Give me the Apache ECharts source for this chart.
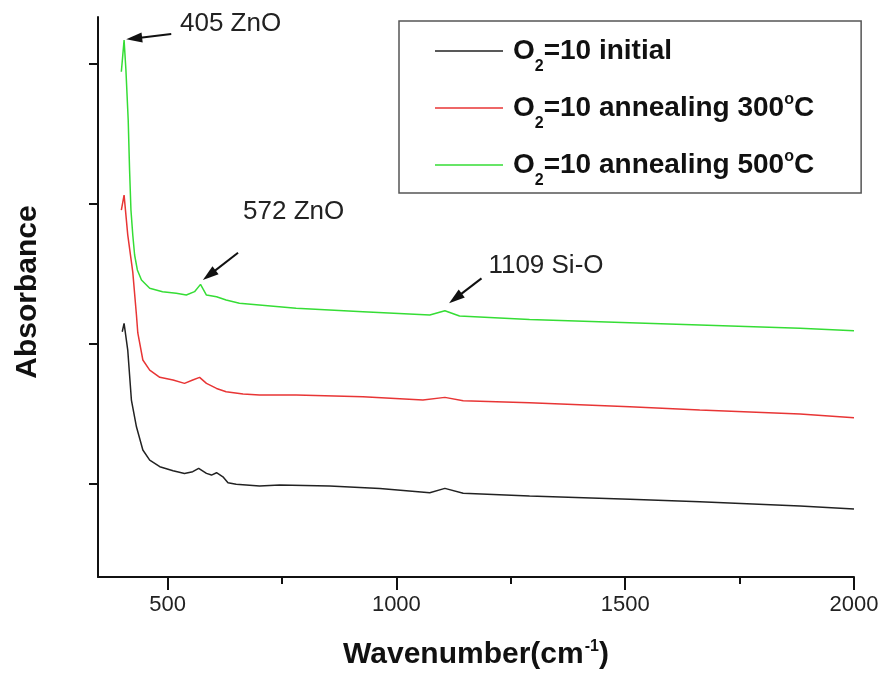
<!DOCTYPE html>
<html>
<head>
<meta charset="utf-8">
<script src="https://cdn.jsdelivr.net/npm/echarts@6/dist/echarts.min.js"></script>
<style>
  html, body { margin: 0; padding: 0; background: #fff; }
  #chart { width: 882px; height: 675px; }
</style>
</head>
<body>
<div id="chart"></div>
<script>
// FTIR absorbance spectra (arbitrary offset units)
var wnInitial = [401, 405, 413, 421, 432, 446, 461, 483, 512, 537, 555, 568, 585, 596, 607, 621, 632, 650, 701, 745, 854, 964, 1073, 1106, 1146, 1291, 1510, 1663, 1882, 2000];
var absInitial = [1.088, 1.148, 0.957, 0.600, 0.409, 0.243, 0.171, 0.124, 0.095, 0.076, 0.088, 0.112, 0.076, 0.064, 0.081, 0.052, 0.009, -0.002, -0.014, -0.007, -0.014, -0.031, -0.062, -0.031, -0.066, -0.086, -0.109, -0.126, -0.157, -0.179];

var wn300 = [399, 405, 413, 424, 432, 435, 446, 461, 483, 512, 537, 555, 570, 585, 607, 628, 665, 701, 781, 927, 1058, 1106, 1146, 1291, 1510, 1663, 1882, 2000];
var abs300 = [1.957, 2.064, 1.780, 1.514, 1.207, 1.079, 0.886, 0.814, 0.762, 0.743, 0.719, 0.743, 0.762, 0.719, 0.683, 0.659, 0.643, 0.636, 0.636, 0.624, 0.600, 0.619, 0.595, 0.581, 0.552, 0.529, 0.500, 0.474];

var wn500 = [399, 405, 409, 414, 417, 420, 424, 428, 434, 443, 461, 489, 519, 541, 559, 572, 585, 607, 628, 657, 781, 927, 1073, 1106, 1138, 1291, 1510, 1663, 1882, 2000];
var abs500 = [2.945, 3.171, 2.957, 2.600, 2.243, 1.957, 1.779, 1.636, 1.529, 1.457, 1.398, 1.374, 1.362, 1.350, 1.374, 1.426, 1.350, 1.338, 1.314, 1.291, 1.255, 1.231, 1.207, 1.238, 1.200, 1.176, 1.152, 1.136, 1.112, 1.095];

var seriesNames = ['O2=10 initial', 'O2=10 annealing 300°C', 'O2=10 annealing 500°C'];
var seriesColors = ['#222222', '#e83535', '#35dd35'];

var xMajorTicks = [500, 1000, 1500, 2000];
var xMinorTicks = [750, 1250, 1750];
var yTicks = [0, 1, 2, 3];

// peak annotations: label text, text anchor, arrow tail, arrowhead centre
var peakLabels = ['405 ZnO', '572 ZnO', '1109 Si-O'];
var labelAnchors = [[526, 3.286], [664, 1.943], [1200, 1.557]];
var arrowStarts = [[508, 3.214], [654, 1.652], [1186, 1.469]];
var arrowHeads = [[427, 3.183], [591, 1.492], [1129, 1.326]];

var FONT = '"Liberation Sans", Arial, Helvetica, sans-serif';

function pairs(xs, ys) {
  return xs.map(function (x, i) { return [x, ys[i]]; });
}

var seriesData = [pairs(wnInitial, absInitial), pairs(wn300, abs300), pairs(wn500, abs500)];

var series = seriesData.map(function (d, i) {
  return {
    name: seriesNames[i],
    type: 'line',
    data: d,
    symbol: 'none',
    smooth: false,
    lineStyle: { color: seriesColors[i], width: 1.5 },
    itemStyle: { color: seriesColors[i] },
    z: 3
  };
});

// arrows and peak labels
series.push({
  type: 'line',
  data: [],
  silent: true,
  markLine: {
    silent: true,
    animation: false,
    symbol: ['none', 'triangle'],
    symbolSize: 13,
    label: { show: false },
    lineStyle: { color: '#111', width: 2, type: 'solid' },
    data: arrowStarts.map(function (s, i) {
      return [{ coord: s }, { coord: arrowHeads[i], symbol: 'triangle', symbolSize: [10, 16] }];
    })
  },
  markPoint: {
    silent: true,
    animation: false,
    symbol: 'rect',
    symbolSize: 1,
    itemStyle: { color: 'rgba(0,0,0,0)' },
    label: {
      show: true,
      position: 'right',
      distance: 0,
      color: '#222',
      fontFamily: FONT,
      fontSize: 26,
      formatter: function (p) { return p.name; }
    },
    data: labelAnchors.map(function (c, i) {
      return { name: peakLabels[i], coord: c };
    })
  }
});

var chart = echarts.init(document.getElementById('chart'), null, { renderer: 'canvas' });

chart.setOption({
  animation: false,
  backgroundColor: '#ffffff',
  grid: { left: 98, right: 28, top: 17, bottom: 98, containLabel: false },
  legend: {
    orient: 'vertical',
    left: 399,
    top: 21,
    padding: [16, 47, 4, 36],
    itemGap: 9,
    itemWidth: 68,
    itemHeight: 1.5,
    icon: 'rect',
    borderColor: '#555',
    borderWidth: 1.5,
    borderRadius: 0,
    data: seriesNames,
    formatter: function (name) {
      var body = name.slice(2);
      var parts = body.split('°');
      var s = '{o|O}{sub|2}{t|' + parts[0] + '}';
      if (parts.length > 1) s += '{sup|o}{t|' + parts[1] + '}';
      return s;
    },
    textStyle: {
      rich: {
        o: { fontFamily: FONT, fontWeight: 'bold', fontSize: 28, color: '#111', lineHeight: 48, padding: [0, 0, 0, 5] },
        t: { fontFamily: FONT, fontWeight: 'bold', fontSize: 28, color: '#111', lineHeight: 48 },
        sub: { fontFamily: FONT, fontWeight: 'bold', fontSize: 16, color: '#111', lineHeight: 16, verticalAlign: 'bottom' },
        sup: { fontFamily: FONT, fontWeight: 'bold', fontSize: 16, color: '#111', lineHeight: 16, verticalAlign: 'top', padding: [8, 0, 0, 0] }
      }
    }
  },
  xAxis: [{
    type: 'value',
    min: 348,
    max: 2000,
    position: 'bottom',
    name: '{t|Wavenumber(cm}{sup|-1}{t|)}',
    nameLocation: 'middle',
    nameGap: 60,
    nameTextStyle: {
      rich: {
        t: { fontFamily: FONT, fontWeight: 'bold', fontSize: 30, color: '#111', lineHeight: 36 },
        sup: { fontFamily: FONT, fontWeight: 'bold', fontSize: 16, color: '#111', lineHeight: 16, verticalAlign: 'top', padding: [2, 0, 0, 1] }
      }
    },
    axisLine: { show: true, onZero: false, lineStyle: { color: '#111', width: 2 } },
    axisTick: { show: true, customValues: xMajorTicks, length: 13, lineStyle: { color: '#111', width: 2 } },
    axisLabel: {
      show: true, customValues: xMajorTicks, margin: 17, fontFamily: FONT, fontSize: 22, color: '#222',
      formatter: function (v) { return String(v); }
    },
    splitLine: { show: false }
  }, {
    type: 'value',
    min: 348,
    max: 2000,
    position: 'bottom',
    axisLine: { show: false, onZero: false },
    axisTick: { show: true, customValues: xMinorTicks, length: 7, lineStyle: { color: '#111', width: 2 } },
    axisLabel: { show: false },
    splitLine: { show: false }
  }],
  yAxis: {
    type: 'value',
    min: -0.664,
    max: 3.336,
    name: 'Absorbance',
    nameLocation: 'middle',
    nameGap: 52,
    nameTextStyle: { fontFamily: FONT, fontWeight: 'bold', fontSize: 30, color: '#111', lineHeight: 36, padding: [0, 0, 0, 10] },
    axisLine: { show: true, onZero: false, lineStyle: { color: '#111', width: 2 } },
    axisTick: { show: true, customValues: yTicks, length: 9, lineStyle: { color: '#111', width: 2 } },
    axisLabel: { show: false },
    splitLine: { show: false }
  },
  series: series
});
</script>
</body>
</html>
